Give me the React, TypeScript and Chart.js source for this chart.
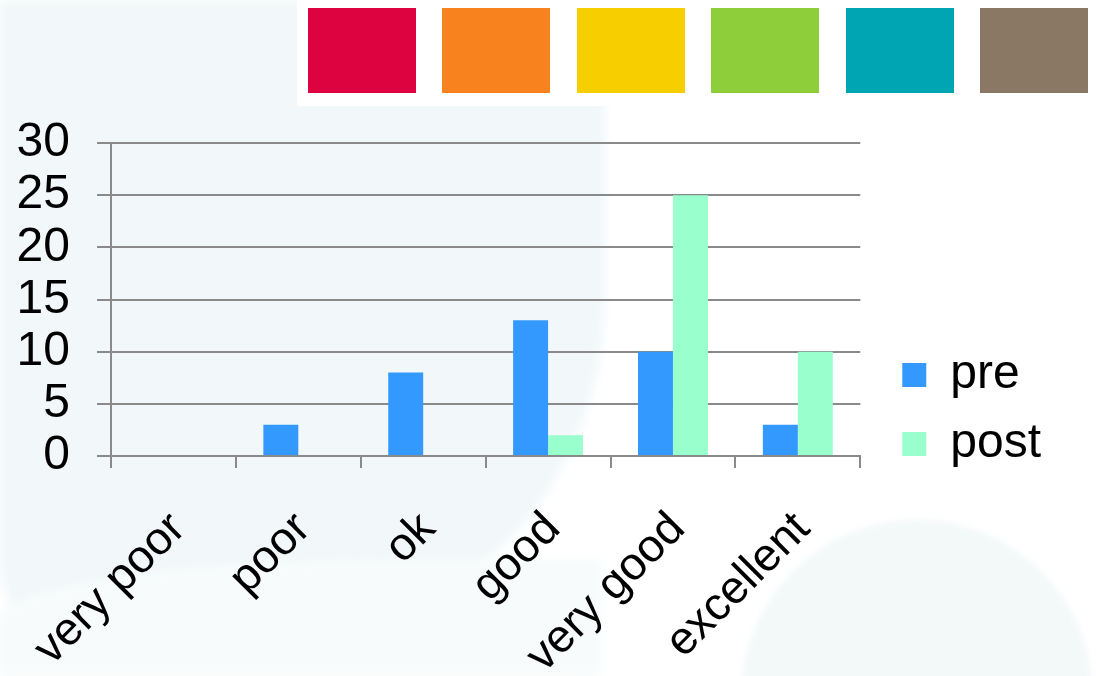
import React, { useEffect, useRef } from "react";
import { Chart, registerables } from "chart.js";

Chart.register(...registerables);

const categories = ["very poor", "poor", "ok", "good", "very good", "excellent"];
const preValues = [0, 3, 8, 13, 10, 3];
const postValues = [0, 0, 0, 2, 25, 10];
const seriesNames = ["pre", "post"];
const seriesColors = ["#3399FF", "#99FFCC"];
const yMin = 0;
const yMax = 30;
const yStep = 5;
const swatchColors = ["#DC0340", "#F7821E", "#F7CE00", "#8DCE3A", "#00A5B4", "#8A7864"];

const FONT = "'Liberation Sans', Arial, Helvetica, sans-serif";
const GRID = "#8A8A8A";

export default function App() {
  const canvasRef = useRef<HTMLCanvasElement | null>(null);

  useEffect(() => {
    if (!canvasRef.current) return;
    const chart = new Chart(canvasRef.current, {
      type: "bar",
      data: {
        labels: categories,
        datasets: [
          {
            label: seriesNames[0],
            data: preValues,
            backgroundColor: seriesColors[0],
            borderWidth: 0,
            categoryPercentage: 0.56,
            barPercentage: 1,
          },
          {
            label: seriesNames[1],
            data: postValues,
            backgroundColor: seriesColors[1],
            borderWidth: 0,
            categoryPercentage: 0.56,
            barPercentage: 1,
          },
        ],
      },
      options: {
        animation: false,
        responsive: true,
        maintainAspectRatio: false,
        layout: { padding: { top: 143, left: 0, right: 47, bottom: 0 } },
        plugins: {
          legend: {
            position: "right",
            labels: {
              font: { family: FONT, size: 48, lineHeight: 1 },
              color: "#000",
              boxWidth: 24,
              boxHeight: 24,
              padding: 21,
            },
          },
          tooltip: { enabled: false },
        },
        scales: {
          x: {
            offset: true,
            grid: {
              display: true,
              drawOnChartArea: false,
              drawTicks: true,
              tickLength: 12,
              color: GRID,
              lineWidth: 2,
              offset: true,
            },
            border: { display: true, color: GRID, width: 2 },
            ticks: {
              font: { family: FONT, size: 46 },
              color: "#000",
              minRotation: 45,
              maxRotation: 45,
              autoSkip: false,
              padding: 34,
              labelOffset: 5,
            },
            afterFit: (s: any) => {
              s.height = 220;
              s.paddingLeft = 0;
              s.paddingRight = 0;
            },
          },
          y: {
            min: yMin,
            max: yMax,
            ticks: {
              stepSize: yStep,
              autoSkip: false,
              font: { family: FONT, size: 48, lineHeight: 1 },
              color: "#000",
              padding: 27,
            },
            grid: { color: GRID, lineWidth: 2, tickLength: 14 },
            border: { display: true, color: GRID, width: 2 },
            afterFit: (s: any) => {
              s.width = 111;
              s.paddingTop = 0;
              s.paddingBottom = 0;
            },
          },
          spacer: {
            type: "linear",
            position: "right",
            display: true,
            grid: { display: false },
            border: { display: false },
            ticks: { display: false },
            afterFit: (s: any) => {
              s.width = 21;
            },
          },
        },
      } as any,
    });
    return () => chart.destroy();
  }, []);

  return (
    <div
      style={{
        position: "fixed",
        left: 0,
        top: 0,
        width: 1098,
        height: 676,
        background: "#FFFFFF",
        overflow: "hidden",
      }}
    >
      <div
        style={{
          position: "absolute",
          left: 0,
          top: 0,
          width: 605,
          height: 628,
          background: "#F2F8F9",
          borderBottomRightRadius: "300px 330px",
          borderBottomLeftRadius: "40px 70px",
          filter: "blur(4px)",
        }}
      />
      <div
        style={{
          position: "absolute",
          left: 0,
          top: 560,
          width: 600,
          height: 116,
          background: "#F7FBFC",
          borderTopLeftRadius: "400px 60px",
          filter: "blur(4px)",
        }}
      />
      <div
        style={{
          position: "absolute",
          left: 917 - 175,
          top: 695 - 175,
          width: 350,
          height: 350,
          borderRadius: "50%",
          background: "#F3F8F9",
          filter: "blur(3px)",
        }}
      />
      <div
        style={{
          position: "absolute",
          left: 297,
          top: 0,
          width: 801,
          height: 106,
          background: "#FFFFFF",
        }}
      />
      {swatchColors.map((c, i) => (
        <div
          key={c}
          style={{
            position: "absolute",
            left: 308 + i * 134.4,
            top: 8,
            width: 108,
            height: 85,
            background: c,
          }}
        />
      ))}
      <div style={{ position: "absolute", left: 0, top: 0, width: 1098, height: 676 }}>
        <canvas ref={canvasRef} style={{ display: "block" }} />
      </div>
    </div>
  );
}
